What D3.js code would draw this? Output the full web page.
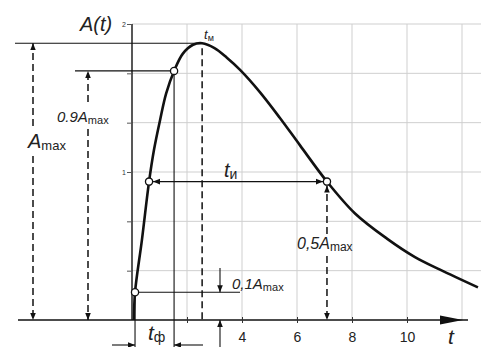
<!DOCTYPE html>
<html>
<head>
<meta charset="utf-8">
<script src="https://cdn.jsdelivr.net/npm/d3@7"></script>
<style>
  html, body { margin: 0; padding: 0; background: #fff; }
  svg { display: block; font-family: "Liberation Sans", Arial, sans-serif; }
</style>
</head>
<body>
<svg id="chart" width="481" height="347"></svg>
<script>
// Pulse shape A(t): sampled points of the curve
const tPoints = [0.07, 0.11, 0.36, 0.62, 0.80, 1.02, 1.24, 1.53, 1.85, 2.22, 2.55, 3.0, 3.45, 3.93, 4.65, 5.38, 6.11, 7.09, 8.11, 9.27, 10.29, 11.2, 12.58];
const aPoints = [0, 0.187, 0.54, 0.935, 1.15, 1.35, 1.53, 1.683, 1.80, 1.86, 1.87, 1.837, 1.772, 1.69, 1.54, 1.365, 1.18, 0.935, 0.72, 0.55, 0.425, 0.34, 0.22];

// Characteristic values
const aMax = 1.87;
const tMax = 2.55;
const levels = [0.1, 0.5, 0.9, 0.5];          // fractions of A_max
const levelTimes = [0.11, 0.62, 1.53, 7.09];  // times where the curve crosses them

// Axis ticks
const xTicks = [2, 4, 6, 8, 10];
const xTickLabels = ["", "4", "6", "8", "10"];
const yTicks = [1/3, 2/3, 1, 4/3, 5/3, 2];
const yTickLabels = ["", "", "1", "", "", "2"];
const xGrid = [2, 4, 6, 8, 10, 12];

const svg = d3.select("#chart");
const x = d3.scaleLinear().domain([0, 12]).range([132, 462]);
const y = d3.scaleLinear().domain([0, 2]).range([320, 24]);

// arrowhead
const defs = svg.append("defs");
defs.append("marker")
  .attr("id", "arr").attr("viewBox", "0 0 10 10")
  .attr("refX", 10).attr("refY", 5)
  .attr("markerWidth", 7).attr("markerHeight", 7)
  .attr("markerUnits", "userSpaceOnUse")
  .attr("orient", "auto-start-reverse")
  .append("path").attr("d", "M0,1 L10,5 L0,9 Z").attr("fill", "#111");

// grid
const grid = svg.append("g").attr("stroke", "#cfcfcf").attr("stroke-width", 1);
grid.selectAll(".gx").data(xGrid).join("line")
  .attr("x1", d => x(d)).attr("x2", d => x(d))
  .attr("y1", y(2)).attr("y2", y(0));
grid.selectAll(".gy").data(yTicks).join("line")
  .attr("x1", x(0)).attr("x2", 481)
  .attr("y1", d => y(d)).attr("y2", d => y(d));

// y axis
const yAxis = svg.append("g").attr("transform", `translate(${x(0)},0)`)
  .call(d3.axisLeft(y).tickValues(yTicks).tickSize(5)
    .tickFormat((d, i) => yTickLabels[i]));
yAxis.select(".domain").attr("d", `M0,${y(2)}V${y(0)}`).attr("stroke", "#111").attr("stroke-width", 1.4);
yAxis.selectAll(".tick line").attr("stroke", "#555");
yAxis.selectAll(".tick text").attr("font-size", 7).attr("x", -6).attr("fill", "#333");

// x axis line with arrow
const base = y(0);
svg.append("line").attr("x1", 18).attr("x2", 468).attr("y1", base).attr("y2", base)
  .attr("stroke", "#111").attr("stroke-width", 1.3);
svg.append("path")
  .attr("d", `M440,${base - 4.5} L463,${base} L440,${base + 4.5} Z`)
  .attr("fill", "#111");
const xAxis = svg.append("g").attr("transform", `translate(0,${base})`)
  .call(d3.axisBottom(x).tickValues(xTicks).tickSize(3)
    .tickFormat((d, i) => xTickLabels[i]));
xAxis.select(".domain").remove();
xAxis.selectAll(".tick line").attr("y1", -3).attr("y2", 3).attr("stroke", "#333");
xAxis.selectAll(".tick text").attr("font-size", 14).attr("y", 12).attr("fill", "#222");

// helper lines
function line(x1, y1, x2, y2, opts = {}) {
  const l = svg.append("line").attr("x1", x1).attr("y1", y1).attr("x2", x2).attr("y2", y2)
    .attr("stroke", "#111").attr("stroke-width", opts.w || 1.1);
  if (opts.dash) l.attr("stroke-dasharray", opts.dash);
  if (opts.start) l.attr("marker-start", "url(#arr)");
  if (opts.end) l.attr("marker-end", "url(#arr)");
  return l;
}

const xt01 = x(levelTimes[0]), yt01 = y(levels[0] * aMax);
const xt05a = x(levelTimes[1]), y05 = y(levels[1] * aMax);
const xt09 = x(levelTimes[2]), yt09 = y(levels[2] * aMax);
const xt05b = x(levelTimes[3]);
const yMax = y(aMax), xMax = x(tMax);

// A_max level and its dimension
line(15, yMax, xMax, yMax);
line(33, 126, 33, yMax, { dash: "7,4", w: 1.5, end: true });
line(33, 156, 33, base, { dash: "7,4", w: 1.5, end: true });

// 0.9 A_max level and dimension
line(75, yt09, xt09, yt09);
line(88, 102, 88, yt09, { dash: "7,4", w: 1.5, end: true });
line(88, 129, 88, base, { dash: "7,4", w: 1.5, end: true });

// t_m marker line
line(xMax, yMax + 5, xMax, base, { dash: "7,4", w: 1.5 });

// front duration t_ф
line(xt09, yt09, xt09, 347);
line(xt01, yt01, xt01, 347);
line(112, 345, xt01, 345, { end: true });
line(203, 345, xt09, 345, { end: true });

// pulse duration t_и at 0.5 A_max
line(xt05a + 4, y05, xt05b - 4, y05, { start: true, end: true });

// 0.5 A_max dimension on falling edge
line(xt05b, 234, xt05b, y05 + 4, { dash: "7,4", w: 1.5, end: true });
line(xt05b, 256, xt05b, base, { dash: "7,4", w: 1.5, end: true });

// 0.1 A_max level and dimension
line(xt01, yt01, 240, yt01);
line(220, 268, 220, yt01, { end: true });
line(220, 347, 220, base, { end: true });

// curve
svg.append("path")
  .datum(tPoints.map((t, i) => [t, aPoints[i]]))
  .attr("d", d3.line().x(d => x(d[0])).y(d => y(d[1])).curve(d3.curveCatmullRom.alpha(0.5)))
  .attr("fill", "none").attr("stroke", "#111").attr("stroke-width", 2.6);

// level markers
svg.selectAll(".mk").data(levels).join("circle")
  .attr("cx", (d, i) => x(levelTimes[i]))
  .attr("cy", d => y(d * aMax))
  .attr("r", 3.6).attr("fill", "#fff").attr("stroke", "#111").attr("stroke-width", 1.3);

// labels
function label(px, py, main, sub, mainSize, subSize, italicMain = true) {
  const t = svg.append("text").attr("x", px).attr("y", py).attr("fill", "#222");
  t.append("tspan").text(main).attr("font-size", mainSize)
    .attr("font-style", italicMain ? "italic" : "normal");
  if (sub) t.append("tspan").text(sub).attr("font-size", subSize).attr("dy", 2);
  return t;
}
label(80, 31, "A(t)", null, 20);
label(28, 148, "A", "max", 20, 13);
label(57, 122, "0.9A", "max", 15, 11);
label(204, 39, "t", "м", 13, 9);
label(224, 177, "t", "и", 20, 14);
label(297, 249, "0,5A", "max", 16, 12);
label(232, 289, "0,1A", "max", 15, 11);
label(148, 340, "t", "ф", 21, 14);
label(448, 344, "t", null, 21);
</script>
</body>
</html>
